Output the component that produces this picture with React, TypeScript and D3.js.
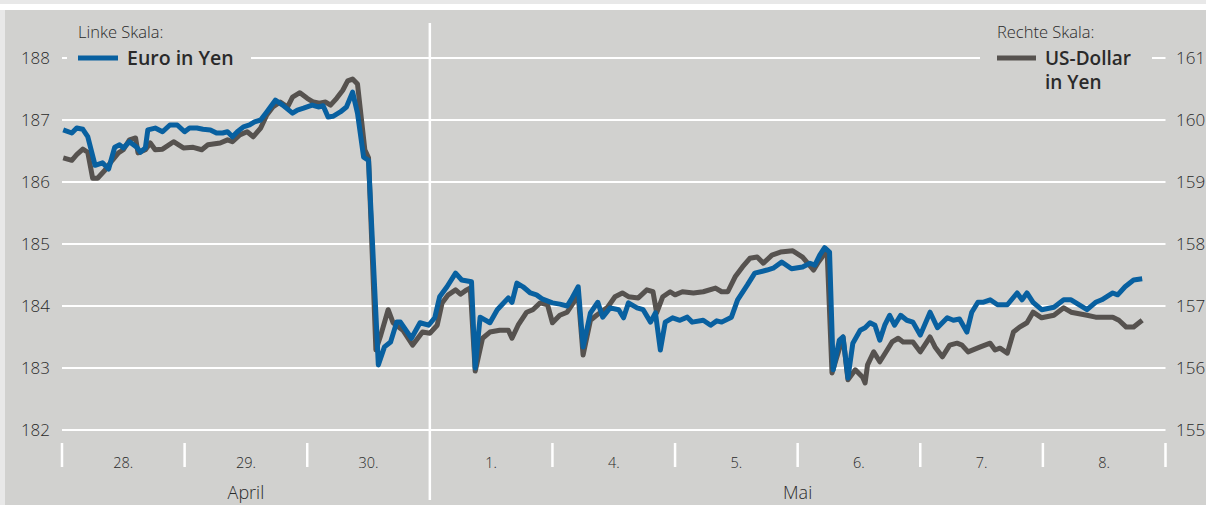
import React from "react";
import * as d3 from "d3";

// time in trading-day units (0 = start of 28. April), value
const euroInYen: [number, number][] = [
  [0.01,186.84],[0.08,186.79],[0.12,186.87],[0.17,186.85],[0.21,186.73],[0.27,186.27],[0.33,186.31],[0.38,186.21],
  [0.43,186.56],[0.47,186.60],[0.50,186.55],[0.55,186.65],[0.61,186.56],[0.64,186.48],[0.68,186.55],[0.70,186.84],
  [0.76,186.87],[0.82,186.81],[0.88,186.92],[0.94,186.92],[1.00,186.81],[1.04,186.87],[1.10,186.87],[1.15,186.85],
  [1.21,186.84],[1.26,186.79],[1.31,186.79],[1.35,186.81],[1.39,186.73],[1.43,186.81],[1.48,186.89],[1.53,186.92],
  [1.57,186.97],[1.62,187.00],[1.67,187.13],[1.74,187.32],[1.80,187.24],[1.88,187.11],[1.92,187.16],[1.97,187.19],
  [2.04,187.24],[2.09,187.21],[2.13,187.23],[2.17,187.05],[2.21,187.06],[2.27,187.13],[2.32,187.21],[2.37,187.45],
  [2.41,187.11],[2.46,186.40],[2.50,186.35],[2.58,183.05],[2.63,183.34],[2.68,183.42],[2.73,183.74],[2.76,183.74],
  [2.85,183.48],[2.92,183.73],[2.99,183.69],[3.04,183.81],[3.08,184.15],[3.14,184.31],[3.21,184.53],[3.26,184.42],
  [3.34,184.39],[3.37,183.00],[3.41,183.82],[3.49,183.73],[3.55,183.94],[3.64,184.13],[3.67,184.06],[3.71,184.37],
  [3.76,184.31],[3.82,184.21],[3.87,184.18],[3.92,184.11],[4.00,184.05],[4.06,184.03],[4.12,184.00],[4.16,184.13],
  [4.21,184.31],[4.25,183.34],[4.31,183.89],[4.37,184.06],[4.41,183.82],[4.47,183.97],[4.54,183.94],[4.58,183.81],
  [4.62,184.05],[4.69,183.97],[4.74,183.94],[4.80,183.74],[4.84,183.89],[4.88,183.29],[4.92,183.74],[4.98,183.81],
  [5.04,183.77],[5.10,183.82],[5.14,183.74],[5.23,183.77],[5.29,183.69],[5.34,183.76],[5.38,183.74],[5.46,183.82],
  [5.51,184.10],[5.59,184.34],[5.65,184.53],[5.75,184.58],[5.80,184.61],[5.87,184.71],[5.95,184.60],[6.04,184.63],
  [6.10,184.69],[6.14,184.66],[6.18,184.82],[6.22,184.94],[6.26,184.87],[6.29,182.97],[6.34,183.45],[6.37,183.50],
  [6.41,182.84],[6.45,183.40],[6.51,183.61],[6.55,183.65],[6.59,183.73],[6.63,183.69],[6.67,183.45],[6.71,183.69],
  [6.75,183.85],[6.79,183.69],[6.84,183.85],[6.89,183.77],[6.94,183.74],[7.00,183.53],[7.08,183.90],[7.14,183.65],
  [7.22,183.81],[7.27,183.77],[7.32,183.79],[7.38,183.58],[7.42,183.90],[7.47,184.06],[7.51,184.06],[7.57,184.10],
  [7.63,184.02],[7.71,184.02],[7.79,184.21],[7.83,184.10],[7.87,184.21],[7.92,184.06],[7.99,183.94],[8.09,183.98],
  [8.17,184.10],[8.23,184.10],[8.36,183.94],[8.43,184.06],[8.48,184.10],[8.57,184.21],[8.61,184.18],[8.67,184.31],
  [8.74,184.42],[8.81,184.44],
];

const usDollarInYen: [number, number][] = [
  [0.01,159.39],[0.08,159.35],[0.12,159.44],[0.17,159.53],[0.21,159.48],[0.25,159.06],[0.29,159.06],[0.35,159.19],
  [0.41,159.35],[0.46,159.47],[0.50,159.52],[0.55,159.68],[0.60,159.71],[0.62,159.47],[0.68,159.52],[0.72,159.63],
  [0.76,159.52],[0.82,159.53],[0.91,159.65],[0.99,159.55],[1.07,159.56],[1.14,159.52],[1.19,159.60],[1.29,159.63],
  [1.35,159.68],[1.39,159.65],[1.45,159.76],[1.51,159.81],[1.56,159.73],[1.62,159.87],[1.67,160.08],[1.72,160.21],
  [1.78,160.29],[1.84,160.21],[1.88,160.37],[1.94,160.44],[2.00,160.35],[2.05,160.29],[2.10,160.27],[2.15,160.29],
  [2.19,160.24],[2.24,160.35],[2.29,160.48],[2.33,160.63],[2.37,160.66],[2.41,160.58],[2.47,159.52],[2.50,159.39],
  [2.56,156.29],[2.60,156.53],[2.66,156.94],[2.70,156.73],[2.78,156.61],[2.86,156.37],[2.94,156.58],[3.00,156.56],
  [3.06,156.69],[3.10,157.05],[3.15,157.18],[3.21,157.26],[3.25,157.19],[3.30,157.26],[3.33,157.29],[3.37,155.95],
  [3.43,156.48],[3.49,156.58],[3.57,156.61],[3.64,156.61],[3.67,156.48],[3.72,156.69],[3.79,156.90],[3.84,156.94],
  [3.90,157.05],[3.96,157.02],[4.00,156.73],[4.06,156.85],[4.12,156.90],[4.17,157.05],[4.21,157.18],[4.25,156.21],
  [4.31,156.77],[4.36,156.85],[4.45,156.98],[4.51,157.15],[4.57,157.21],[4.62,157.15],[4.70,157.13],[4.77,157.26],
  [4.82,157.23],[4.85,156.89],[4.90,157.15],[4.96,157.23],[5.00,157.18],[5.06,157.23],[5.15,157.21],[5.23,157.23],
  [5.33,157.29],[5.38,157.23],[5.43,157.23],[5.49,157.47],[5.55,157.63],[5.61,157.77],[5.67,157.79],[5.72,157.69],
  [5.79,157.82],[5.86,157.87],[5.96,157.89],[6.04,157.79],[6.13,157.58],[6.17,157.71],[6.24,157.90],[6.28,155.92],
  [6.32,156.18],[6.37,156.50],[6.41,155.81],[6.47,155.97],[6.53,155.85],[6.55,155.76],[6.57,156.05],[6.62,156.26],
  [6.67,156.10],[6.73,156.29],[6.77,156.42],[6.82,156.48],[6.86,156.42],[6.94,156.42],[7.00,156.26],[7.08,156.50],
  [7.12,156.34],[7.18,156.18],[7.24,156.37],[7.30,156.40],[7.34,156.37],[7.39,156.26],[7.49,156.34],[7.57,156.40],
  [7.61,156.29],[7.65,156.32],[7.71,156.24],[7.76,156.58],[7.81,156.66],[7.87,156.73],[7.92,156.90],[7.99,156.81],
  [8.09,156.85],[8.17,156.97],[8.23,156.90],[8.36,156.85],[8.43,156.82],[8.57,156.82],[8.62,156.77],[8.68,156.66],
  [8.74,156.66],[8.81,156.77],
];

const leftTicks = [188, 187, 186, 185, 184, 183, 182];
const rightTicks = [161, 160, 159, 158, 157, 156, 155];
const dayLabels = ["28.", "29.", "30.", "1.", "4.", "5.", "6.", "7.", "8."];
const months = [
  { label: "April", from: 0, to: 3 },
  { label: "Mai", from: 3, to: 9 },
];

const W = 1206;
const H = 505;
const BG = "#d1d1cf";
const BLUE = "#0860a0";
const GRAY = "#56524f";
const TEXT = "#2a2a2a";
const FONT = "'Open Sans', 'Noto Sans', sans-serif";

export default function App() {
  const x = d3.scaleLinear().domain([0, 9]).range([62, 1165.5]);
  const yL = d3.scaleLinear().domain([182, 188]).range([430, 58]);
  const yR = d3.scaleLinear().domain([155, 161]).range([430, 58]);

  const lineL = d3.line<[number, number]>().x((d) => x(d[0])).y((d) => yL(d[1]));
  const lineR = d3.line<[number, number]>().x((d) => x(d[0])).y((d) => yR(d[1]));

  const boundaries = d3.range(0, 10);

  return (
    <div style={{ position: "absolute", left: 0, top: 0 }}>
      <style>{`body{margin:0}`}</style>
      <svg width={W} height={H} style={{ display: "block" }}>
        <rect x={0} y={0} width={W} height={H} fill="#e8e8e8" />
        <rect x={0} y={4} width={W} height={6} fill="#ffffff" />
        <rect x={5} y={10} width={W - 5} height={H - 10} fill={BG} />

        {/* gridlines */}
        {leftTicks.map((t) => (
          <line key={"g" + t} x1={x(0)} x2={x(9)} y1={yL(t)} y2={yL(t)} stroke="#fff" strokeWidth={2.2} />
        ))}
        {/* month divider */}
        <line x1={x(3)} x2={x(3)} y1={23} y2={500} stroke="#fff" strokeWidth={2.5} />
        {/* day ticks */}
        {boundaries.filter((b) => b !== 3).map((b) => (
          <line key={"t" + b} x1={x(b)} x2={x(b)} y1={443} y2={467} stroke="#fff" strokeWidth={2.5} />
        ))}

        {/* left axis labels */}
        {leftTicks.map((t) => (
          <text key={"l" + t} x={50} y={yL(t)} dy="0.36em" textAnchor="end" fontFamily={FONT} fontSize={17} fontWeight={300} fill={TEXT}>
            {t}
          </text>
        ))}
        {rightTicks.map((t) => (
          <text key={"r" + t} x={1176} y={yR(t)} dy="0.36em" textAnchor="start" fontFamily={FONT} fontSize={17} fontWeight={300} fill={TEXT}>
            {t}
          </text>
        ))}

        {/* day labels */}
        {dayLabels.map((d, i) => (
          <text key={"d" + i} x={x(i + 0.5)} y={468} textAnchor="middle" fontFamily={FONT} fontSize={14.5} fontWeight={300} fill={TEXT}>
            {d}
          </text>
        ))}
        {months.map((m) => (
          <text key={m.label} x={(x(m.from) + x(m.to)) / 2} y={499} textAnchor="middle" fontFamily={FONT} fontSize={18} fontWeight={300} fill={TEXT}>
            {m.label}
          </text>
        ))}

        {/* legend masks */}
        <rect x={67} y={46} width={184} height={24} fill={BG} />
        <rect x={980} y={46} width={172} height={24} fill={BG} />

        {/* series */}
        <path d={lineR(usDollarInYen) || ""} fill="none" stroke={GRAY} strokeWidth={5} strokeLinejoin="round" strokeLinecap="butt" />
        <path d={lineL(euroInYen) || ""} fill="none" stroke={BLUE} strokeWidth={5} strokeLinejoin="round" strokeLinecap="butt" />

        {/* legends */}
        <text x={78} y={38} fontFamily={FONT} fontSize={16.5} fontWeight={300} fill={TEXT}>Linke Skala:</text>
        <line x1={78} x2={118} y1={58} y2={58} stroke={BLUE} strokeWidth={5} />
        <text x={127} y={65} fontFamily={FONT} fontSize={19.5} fontWeight={600} fill={TEXT}>Euro in Yen</text>

        <text x={997} y={38} fontFamily={FONT} fontSize={16.5} fontWeight={300} fill={TEXT}>Rechte Skala:</text>
        <line x1={997} x2={1036} y1={58} y2={58} stroke={GRAY} strokeWidth={5} />
        <text x={1045} y={65} fontFamily={FONT} fontSize={19} fontWeight={600} fill={TEXT}>US-Dollar</text>
        <text x={1045} y={89} fontFamily={FONT} fontSize={19} fontWeight={600} fill={TEXT}>in Yen</text>
      </svg>
    </div>
  );
}
